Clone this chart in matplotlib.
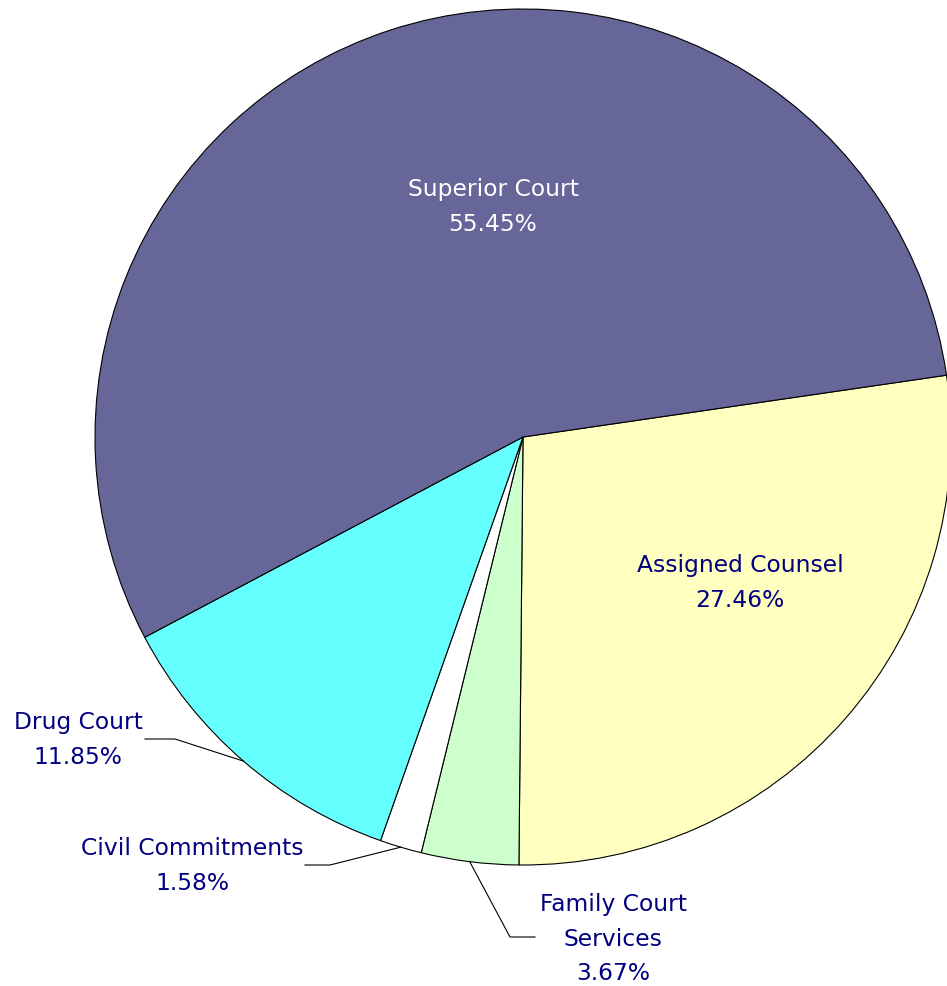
import matplotlib
matplotlib.use("Agg")
import matplotlib.pyplot as plt
import numpy as np

categories = ["Assigned Counsel", "Family Court\nServices", "Civil Commitments", "Drug Court", "Superior Court"]
values = [27.46, 3.67, 1.58, 11.85, 55.45]
colors = ["#FFFFC0", "#CCFFCC", "#FFFFFF", "#66FFFF", "#666699"]
text_colors = ["#000080", "#000080", "#000080", "#000080", "#FFFFFF"]

W, H = 947, 987
fig = plt.figure(figsize=(W / 100, H / 100), dpi=100)
ax = fig.add_axes([0, 0, 1, 1])

cx, cy, R = 523, -438, 428
wedges, _ = ax.pie(values, colors=colors, startangle=8.3, counterclock=False,
                   center=(cx, cy), radius=R, frame=True,
                   wedgeprops=dict(edgecolor="black", linewidth=0.8))
ax.set_xlim(0, W)
ax.set_ylim(-H, 0)
ax.set_aspect("equal")
ax.axis("off")

font = dict(family="DejaVu Sans", fontsize=16.8, ha="center", va="center", linespacing=1.62)

# label anchor positions (pixels) and leader line paths
label_pos = [(740, -583), (613, -939), (192, -866), (78, -740), (493, -207)]
leaders = {
    1: [(510, -938), (535, -938)],
    2: [(330, -866), (305, -866)],
    3: [(175, -740), (145, -740)],
}

for i, (w, name, v) in enumerate(zip(wedges, categories, values)):
    txt = f"{name}\n{v:.2f}%"
    x, y = label_pos[i]
    ax.text(x, y, txt, color=text_colors[i], **font)
    if i in leaders:
        ang = np.deg2rad((w.theta1 + w.theta2) / 2)
        px, py = cx + R * np.cos(ang), cy + R * np.sin(ang)
        pts = [(px, py)] + leaders[i]
        xs, ys = zip(*pts)
        ax.plot(xs, ys, color="black", linewidth=0.8)

fig.savefig("out.png", dpi=100, facecolor="white")
